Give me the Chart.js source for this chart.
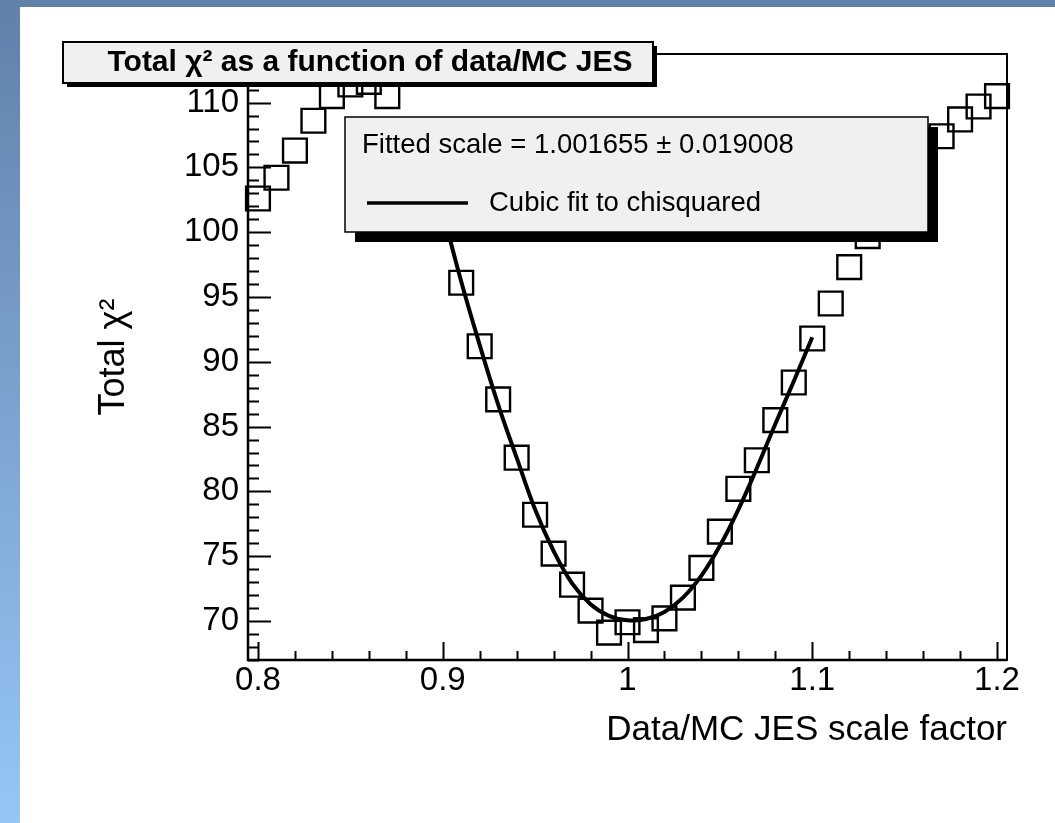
<!DOCTYPE html>
<html>
<head>
<meta charset="utf-8">
<script src="https://cdn.jsdelivr.net/npm/chart.js@4.4.1/dist/chart.umd.min.js"></script>
<style>
  html, body { margin: 0; padding: 0; background: #fff; }
  #wrap { width: 1055px; height: 823px; position: relative; }
</style>
</head>
<body>
<div id="wrap"><canvas id="chi2"></canvas></div>
<script>
// JES scan: total chi2 for each data/MC scale factor
const scaleFactors = [
  0.80, 0.81, 0.82, 0.83, 0.84, 0.85, 0.86, 0.87, 0.88, 0.89, 0.90,
  0.91, 0.92, 0.93, 0.94, 0.95, 0.96, 0.97, 0.98, 0.99, 1.00,
  1.01, 1.02, 1.03, 1.04, 1.05, 1.06, 1.07, 1.08, 1.09, 1.10,
  1.11, 1.12, 1.13, 1.14, 1.15, 1.16, 1.17, 1.18, 1.19, 1.20
];
const chi2Values = [
  102.6, 104.2, 106.3, 108.6, 110.5, 111.4, 111.6, 110.5, 107.5, 104.6, 101.0,
  96.1, 91.2, 87.1, 82.6, 78.2, 75.2, 72.8, 70.8, 69.1, 69.9,
  69.3, 70.2, 71.8, 74.1, 76.9, 80.2, 82.4, 85.5, 88.4, 91.8,
  94.5, 97.3, 99.7, 102.0, 104.1, 105.9, 107.4, 108.7, 109.7, 110.5
];

// cubic fit curve
const fitX = [
  0.90, 0.91, 0.92, 0.93, 0.94, 0.95, 0.96, 0.97, 0.98, 0.99, 1.00,
  1.01, 1.02, 1.03, 1.04, 1.05, 1.06, 1.07, 1.08, 1.09, 1.10
];
const fitY = [
  101.6, 96.2, 91.3, 86.7, 82.6, 78.6, 75.4, 72.9, 71.3, 70.4, 70.05,
  70.15, 70.7, 71.8, 73.5, 75.8, 78.6, 81.8, 85.2, 88.5, 91.9
];

const xTickLabels = ["0.8", "0.9", "1", "1.1", "1.2"];
const yTickLabels = ["70", "75", "80", "85", "90", "95", "100", "105", "110"];

const plotTitle = "Total \u03c7\u00b2 as a function of data/MC JES";
const fitResult = "Fitted scale = 1.001655 \u00b1 0.019008";
const fitLabel = "Cubic fit to chisquared";

Chart.defaults.font.family = "'Liberation Sans', Arial, Helvetica, sans-serif";
Chart.defaults.color = "#000";

function isStep(v, step) {
  const r = v / step;
  return Math.abs(r - Math.round(r)) < 1e-6;
}

function drawBox(ctx, x, y, w, h, shadow, lw) {
  ctx.fillStyle = "#000";
  ctx.fillRect(x + shadow, y + shadow, w, h);
  ctx.fillStyle = "#f0f0f0";
  ctx.fillRect(x, y, w, h);
  ctx.strokeStyle = "#000";
  ctx.lineWidth = lw;
  ctx.strokeRect(x, y, w, h);
}

const rootStyle = {
  id: "rootStyle",
  beforeDraw(chart) {
    const ctx = chart.ctx;
    const g = ctx.createLinearGradient(0, 0, 0, chart.height);
    g.addColorStop(0, "#6081a8");
    g.addColorStop(1, "#96c6f6");
    ctx.save();
    ctx.fillStyle = g;
    ctx.fillRect(0, 0, chart.width, chart.height);
    ctx.fillStyle = "#fff";
    ctx.fillRect(20, 7, chart.width - 20, chart.height - 7);
    ctx.restore();
  },
  afterDraw(chart) {
    const ctx = chart.ctx;
    const a = chart.chartArea;
    const sx = chart.scales.x, sy = chart.scales.y;
    ctx.save();
    ctx.strokeStyle = "#000";
    ctx.lineCap = "butt";

    // frame
    ctx.lineWidth = 2;
    ctx.strokeRect(a.left, a.top, a.right - a.left, a.bottom - a.top);
    ctx.lineWidth = 2.5;
    ctx.beginPath();
    ctx.moveTo(a.left, a.top);
    ctx.lineTo(a.left, a.bottom);
    ctx.lineTo(a.right, a.bottom);
    ctx.stroke();

    // inward ticks
    ctx.lineWidth = 2;
    ctx.beginPath();
    sx.ticks.forEach(t => {
      const px = Math.round(sx.getPixelForValue(t.value)) + 0.5;
      const len = isStep(t.value, 0.1) ? 18 : 9;
      ctx.moveTo(px, a.bottom);
      ctx.lineTo(px, a.bottom - len);
    });
    sy.ticks.forEach(t => {
      const py = Math.round(sy.getPixelForValue(t.value)) + 0.5;
      const len = isStep(t.value, 5) ? 23 : 11;
      ctx.moveTo(a.left, py);
      ctx.lineTo(a.left + len, py);
    });
    ctx.stroke();

    // fit result box
    drawBox(ctx, 345, 117, 583, 115, 10, 1.5);
    ctx.fillStyle = "#000";
    ctx.textBaseline = "middle";
    ctx.textAlign = "left";
    ctx.font = "27.5px 'Liberation Sans', Arial, sans-serif";
    ctx.fillText(fitResult, 362, 145);
    ctx.lineWidth = 3.5;
    ctx.beginPath();
    ctx.moveTo(367, 203);
    ctx.lineTo(468, 203);
    ctx.stroke();
    ctx.fillText(chart.data.datasets[0].label, 489, 203);

    // title box
    drawBox(ctx, 63, 42, 590, 41, 4, 2);
    ctx.fillStyle = "#000";
    ctx.textAlign = "center";
    ctx.font = "bold 30px 'Liberation Sans', Arial, sans-serif";
    ctx.fillText(plotTitle, 370, 63);
    ctx.restore();
  }
};

new Chart(document.getElementById("chi2"), {
  type: "scatter",
  data: {
    datasets: [
      {
        type: "line",
        label: fitLabel,
        data: fitX.map((x, i) => ({ x: x, y: fitY[i] })),
        borderColor: "#000",
        borderWidth: 4,
        pointRadius: 0,
        tension: 0.4,
        fill: false,
        clip: false
      },
      {
        label: "chi2 scan",
        data: scaleFactors.map((x, i) => ({ x: x, y: chi2Values[i] })),
        pointStyle: "rect",
        pointRadius: 16.8,
        pointBorderWidth: 2.4,
        pointBorderColor: "#000",
        pointBackgroundColor: "rgba(0,0,0,0)",
        showLine: false,
        clip: false
      }
    ]
  },
  options: {
    responsive: true,
    maintainAspectRatio: false,
    animation: false,
    events: [],
    layout: { padding: { top: 54, right: 48, left: 0, bottom: 0 } },
    plugins: {
      legend: { display: false },
      title: { display: false },
      tooltip: { enabled: false }
    },
    scales: {
      x: {
        type: "linear",
        min: 0.7946,
        max: 1.2054,
        afterFit: s => { s.height = 163; },
        grid: { display: false, drawTicks: false },
        border: { display: false },
        ticks: {
          stepSize: 0.02,
          includeBounds: false,
          autoSkip: false,
          maxRotation: 0,
          minRotation: 0,
          padding: 1,
          font: { size: 33 },
          callback: v => {
            const s = String(Number(v.toFixed(1)));
            return isStep(v, 0.1) && xTickLabels.includes(s) ? s : "";
          }
        },
        title: {
          display: true,
          text: "Data/MC JES scale factor",
          align: "end",
          font: { size: 35 },
          padding: { top: 0, bottom: 72 }
        }
      },
      y: {
        type: "linear",
        min: 66.99,
        max: 113.75,
        afterFit: s => { s.width = 248; },
        grid: { display: false, drawTicks: false },
        border: { display: false },
        ticks: {
          stepSize: 1,
          includeBounds: false,
          autoSkip: false,
          padding: 9,
          font: { size: 33 },
          callback: v => {
            const s = String(Math.round(v));
            return isStep(v, 5) && yTickLabels.includes(s) ? s : "";
          }
        },
        title: {
          display: true,
          text: "Total \u03c7\u00b2",
          align: "center",
          font: { size: 36 },
          padding: { top: 92, bottom: 0 }
        }
      }
    }
  },
  plugins: [rootStyle]
});
</script>
</body>
</html>
